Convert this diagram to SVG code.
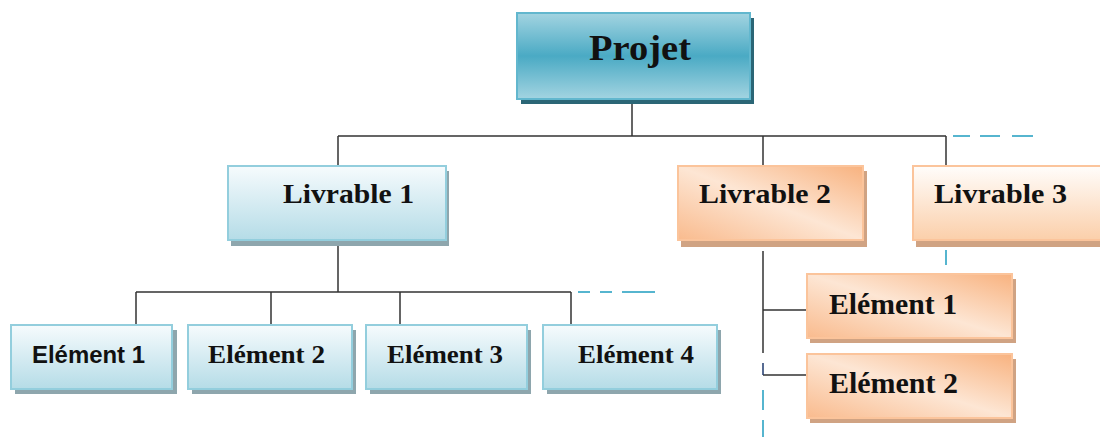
<svg xmlns="http://www.w3.org/2000/svg" width="1100" height="437" viewBox="0 0 1100 437">
<defs>
<linearGradient id="gTeal" x1="0" y1="0" x2="0" y2="1">
<stop offset="0" stop-color="#a3d4e1"/><stop offset="0.5" stop-color="#4aaac4"/><stop offset="1" stop-color="#a3d4e1"/>
</linearGradient>
<linearGradient id="gBlue" x1="0" y1="0" x2="0" y2="1">
<stop offset="0" stop-color="#f6fbfd"/><stop offset="1" stop-color="#b5dce7"/>
</linearGradient>
<linearGradient id="gOrange" x1="0" y1="1" x2="1" y2="0">
<stop offset="0" stop-color="#f9bb8e"/><stop offset="0.5" stop-color="#fde6d4"/><stop offset="1" stop-color="#f8b27f"/>
</linearGradient>
<linearGradient id="gPeach" x1="0" y1="0" x2="0" y2="1">
<stop offset="0" stop-color="#fffdfb"/><stop offset="1" stop-color="#fbcfaa"/>
</linearGradient>
<style>
.box{stroke-width:2}
.teal{fill:url(#gTeal);stroke:#62b7ce}
.blue{fill:url(#gBlue);stroke:#93cedd}
.orange{fill:url(#gOrange);stroke:#fbc49b}
.peach{fill:url(#gPeach);stroke:#fbc49b}
.shT{fill:#2b6676}
.shB{fill:#8ea6ad}
.shO{fill:#d0a383}
.t{font-family:"Liberation Serif","Times New Roman",serif;font-weight:bold;fill:#111}
.s{font-family:"Liberation Sans",Arial,sans-serif;font-weight:bold;fill:#111}
.ln{fill:none;stroke:#333;stroke-width:1.5}
.dash{fill:none;stroke:#56b5cf;stroke-width:2}
</style>
</defs>
<g id="connectors">
<path class="ln" d="M632 99V136M338 136H946M338 136V165M763 136V165M946 136V165"/>
<path class="ln" d="M338 241V292M136 292H571M136 292V324M271 292V324M400 292V324M571 292V324"/>
<path class="ln" d="M763 251V353M763 310H806M763 375H806"/>
<path d="M763 363V375" fill="none" stroke="#1f3a6e" stroke-width="1.5"/>
<path class="dash" d="M953 136H970M980 136H1000M1012 136H1033"/>
<path class="dash" d="M578 292H590M600 292H612M622 292H655"/>
<path class="dash" d="M946 250V265M763 390V410M763 420V437"/>
</g>
<g id="projet">
<rect class="shT" x="521" y="18" width="233" height="86"/>
<rect class="box teal" x="517" y="13" width="233" height="86"/>
<text class="t" x="589" y="60" font-size="36" textLength="102" lengthAdjust="spacingAndGlyphs">Projet</text>
</g>
<g id="livrable1">
<rect class="shB" x="231" y="171" width="218" height="75"/>
<rect class="box blue" x="228" y="166" width="218" height="74"/>
<text class="t" x="283" y="203" font-size="27" textLength="131" lengthAdjust="spacingAndGlyphs">Livrable 1</text>
</g>
<g id="livrable2">
<rect class="shO" x="681" y="171" width="186" height="76"/>
<rect class="box orange" x="678" y="166" width="185" height="74"/>
<text class="t" x="699" y="203" font-size="27" textLength="132" lengthAdjust="spacingAndGlyphs">Livrable 2</text>
</g>
<g id="livrable3">
<rect class="shO" x="916" y="171" width="200" height="76"/>
<rect class="box peach" x="913" y="166" width="200" height="74"/>
<text class="t" x="934" y="203" font-size="27" textLength="133" lengthAdjust="spacingAndGlyphs">Livrable 3</text>
</g>
<g id="element1">
<rect class="shB" x="15" y="330" width="162" height="64"/>
<rect class="box blue" x="11" y="325" width="161" height="64"/>
<text class="s" x="32" y="363" font-size="23" textLength="113" lengthAdjust="spacingAndGlyphs">Elément 1</text>
</g>
<g id="element2">
<rect class="shB" x="192" y="330" width="164" height="64"/>
<rect class="box blue" x="188" y="325" width="164" height="64"/>
<text class="t" x="208" y="363" font-size="26" textLength="117" lengthAdjust="spacingAndGlyphs">Elément 2</text>
</g>
<g id="element3">
<rect class="shB" x="370" y="330" width="161" height="64"/>
<rect class="box blue" x="366" y="325" width="161" height="64"/>
<text class="t" x="387" y="363" font-size="26" textLength="116" lengthAdjust="spacingAndGlyphs">Elément 3</text>
</g>
<g id="element4">
<rect class="shB" x="547" y="330" width="174" height="64"/>
<rect class="box blue" x="543" y="325" width="174" height="64"/>
<text class="t" x="578" y="363" font-size="26" textLength="116" lengthAdjust="spacingAndGlyphs">Elément 4</text>
</g>
<g id="element1b">
<rect class="shO" x="810" y="279" width="206" height="64"/>
<rect class="box orange" x="807" y="274" width="205" height="64"/>
<text class="t" x="829" y="314" font-size="29" textLength="128" lengthAdjust="spacingAndGlyphs">Elément 1</text>
</g>
<g id="element2b">
<rect class="shO" x="810" y="359" width="206" height="64"/>
<rect class="box orange" x="807" y="354" width="205" height="64"/>
<text class="t" x="829" y="393" font-size="29" textLength="129" lengthAdjust="spacingAndGlyphs">Elément 2</text>
</g>
</svg>
